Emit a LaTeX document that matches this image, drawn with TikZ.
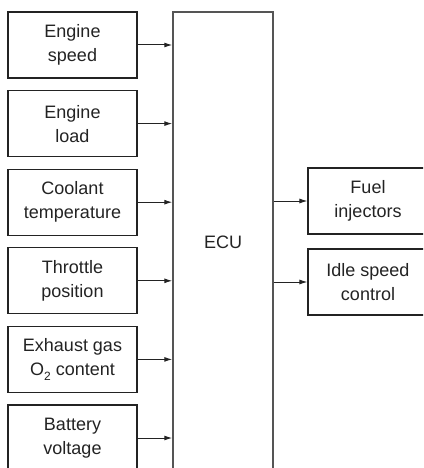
\documentclass[tikz,border=0pt]{standalone}
\usepackage{fontspec}
\setmainfont{Liberation Sans}
\usetikzlibrary{positioning, arrows.meta}
\definecolor{ECULine}{RGB}{85,85,85}
\definecolor{ECUText}{RGB}{35,35,35}
\newcommand{\lowsub}[1]{\raisebox{-0.45ex}{\fontsize{12}{12}\selectfont #1}}

\begin{document}
\begin{tikzpicture}[
      x=1pt, y=-1pt,
      inbox/.style={rectangle, draw=ECUText, line width=1.1pt,
                    minimum width=129pt, minimum height=66pt,
                    align=center, inner sep=0pt, text=ECUText,
                    font=\fontsize{18}{24}\selectfont},
      ecubox/.style={rectangle, draw=ECULine, line width=1.5pt,
                     minimum width=100pt, minimum height=460pt,
                     inner sep=0pt, text=ECUText,
                     font=\fontsize{18}{24}\selectfont},
      sig/.style={draw=ECUText, line width=1pt,
                  -{Latex[length=8pt, width=5pt]}}
    ]
    \useasboundingbox (0,0) rectangle (423,468);
    \clip (0,0) rectangle (423,468);

    % ECU block (runs past the bottom edge)
    \node[ecubox] (ecu) at (223,242) {ECU};

    % Sensor inputs
    \foreach \k/\nm/\txt in {
      0/speed/{Engine\\speed},
      1/load/{Engine\\load},
      2/coolant/{Coolant\\temperature},
      3/throttle/{Throttle\\position},
      4/exhaust/{Exhaust gas\\O\lowsub{2} content},
      5/battery/{Battery\\voltage}}
    {
      \node[inbox] (in-\nm) at (72.5, 45+78.6*\k) {\txt};
      \draw[sig] (in-\nm.east) -- (in-\nm.east -| ecu.west);
    }

    % Actuator outputs
    \node[inbox, minimum width=120pt] (fuel) at (368,201) {Fuel\\injectors};
    \node[inbox, minimum width=120pt] (idle) at (368,282) {Idle speed\\control};
    \draw[sig] (fuel.west -| ecu.east) -- (fuel.west);
    \draw[sig] (idle.west -| ecu.east) -- (idle.west);
  \end{tikzpicture}
\end{document}
